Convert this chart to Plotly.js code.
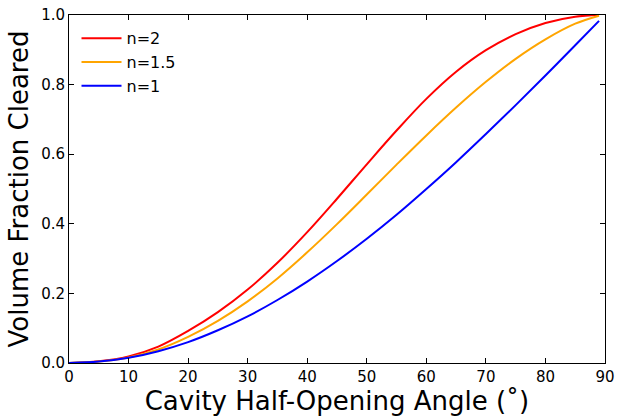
<!DOCTYPE html>
<html>
<head>
<meta charset="utf-8">
<script src="https://cdn.plot.ly/plotly-3.0.1.min.js"></script>
<style>html,body{margin:0;padding:0;background:#fff;}#chart{width:617px;height:418px;}</style>
</head>
<body>
<div id="chart"></div>
<script>
const angles = [0, 5, 10, 15, 20, 25, 30, 35, 40, 45, 50, 55, 60, 65, 70, 75, 80, 85, 89];
const fracN2 = [0, 0.005, 0.019, 0.047, 0.092, 0.146, 0.211, 0.288, 0.376, 0.472, 0.571, 0.668, 0.759, 0.837, 0.899, 0.945, 0.977, 0.995, 1.0];
const fracN15 = [0, 0.004, 0.016, 0.039, 0.075, 0.121, 0.177, 0.243, 0.318, 0.399, 0.484, 0.570, 0.654, 0.734, 0.808, 0.874, 0.930, 0.975, 0.998];
const fracN1 = [0, 0.004, 0.015, 0.034, 0.06, 0.094, 0.134, 0.181, 0.234, 0.293, 0.357, 0.426, 0.5, 0.577, 0.658, 0.741, 0.826, 0.913, 0.983];
const seriesNames = ['n=2', 'n=1.5', 'n=1'];
const seriesColors = ['#ff0000', '#ffa500', '#0000ff'];
const allSeries = [fracN2, fracN15, fracN1];

const traces = allSeries.map((ys, i) => ({
  x: angles, y: ys, type: 'scatter', mode: 'lines', name: seriesNames[i],
  line: {color: seriesColors[i], width: 2, shape: 'spline', smoothing: 1}
}));

const axisCommon = {
  showgrid: false, zeroline: false, showline: true, linecolor: '#000', linewidth: 1,
  mirror: 'ticks', ticks: 'inside', ticklen: 5, tickwidth: 1, tickcolor: '#000',
  tickfont: {family: 'DejaVu Sans', size: 15, color: '#000'}
};

const layout = {
  width: 617, height: 418,
  margin: {l: 69, r: 12, t: 15, b: 55},
  paper_bgcolor: '#fff', plot_bgcolor: '#fff',
  font: {family: 'DejaVu Sans', color: '#000'},
  xaxis: Object.assign({}, axisCommon, {
    range: [0, 90], dtick: 10, tick0: 0,
    title: {text: 'Cavity Half-Opening Angle (˚)\u00a0\u00a0\u00a0\u00a0', font: {family: 'DejaVu Sans', size: 26, color: '#000'}, standoff: 4}
  }),
  yaxis: Object.assign({}, axisCommon, {
    range: [0, 1], dtick: 0.2, tick0: 0, tickformat: '.1f',
    title: {text: 'Volume Fraction Cleared', font: {family: 'DejaVu Sans', size: 26, color: '#000'}, standoff: 5}
  }),
  legend: {
    x: 0.014, y: 0.982, xanchor: 'left', yanchor: 'top',
    bgcolor: 'rgba(0,0,0,0)', borderwidth: 0, itemwidth: 40,
    font: {family: 'DejaVu Sans', size: 16, color: '#000'},
    tracegroupgap: 0
  },
  showlegend: true
};

Plotly.newPlot('chart', traces, layout, {displayModeBar: false, staticPlot: true});
</script>
</body>
</html>
